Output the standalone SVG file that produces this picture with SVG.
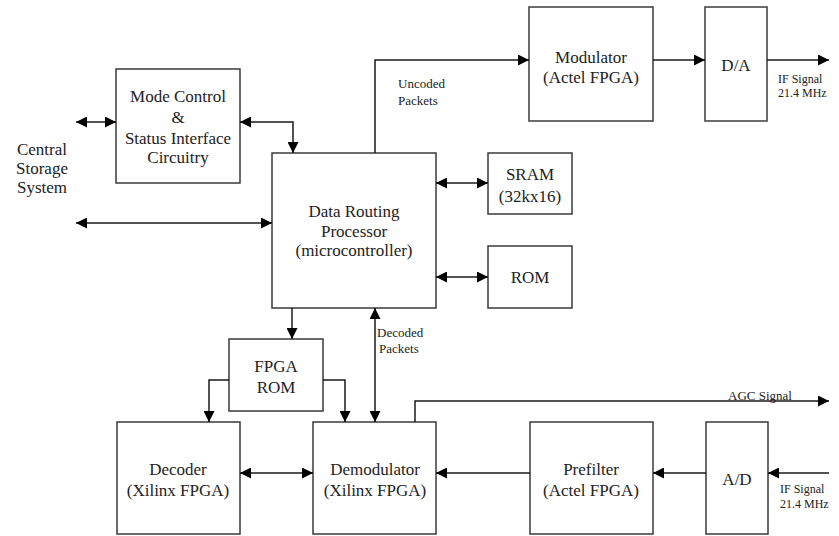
<svg xmlns="http://www.w3.org/2000/svg" width="839" height="536" viewBox="0 0 839 536">
<defs>
<style>
.box{fill:#fff;stroke:#3a3a3a;stroke-width:1.5}
.ln{fill:none;stroke:#1a1a1a;stroke-width:1.5}
.t{font-family:"Liberation Serif","DejaVu Serif","Times New Roman",serif;font-size:17px;fill:#222;text-anchor:middle}
.s{font-family:"Liberation Serif","DejaVu Serif","Times New Roman",serif;font-size:13px;fill:#222}
.if{font-family:"Liberation Serif","DejaVu Serif","Times New Roman",serif;font-size:12px;fill:#222}
</style>
<marker id="ah" markerUnits="userSpaceOnUse" markerWidth="11" markerHeight="11" viewBox="0 0 11 11" refX="11" refY="5.5" orient="auto-start-reverse">
<path d="M0,0 L11,5.5 L0,11 z" fill="#000"/>
</marker>
</defs>
<rect width="839" height="536" fill="#fff"/>

<g id="central">
<text class="t" x="42" y="155">Central</text>
<text class="t" x="42" y="174">Storage</text>
<text class="t" x="42" y="193">System</text>
</g>

<g id="mode">
<rect class="box" x="116" y="69" width="124" height="114"/>
<text class="t" x="178" y="102">Mode Control</text>
<text class="t" x="178" y="123">&amp;</text>
<text class="t" x="178" y="144">Status Interface</text>
<text class="t" x="178" y="163">Circuitry</text>
</g>

<g id="drp">
<rect class="box" x="272" y="153" width="164" height="155"/>
<text class="t" x="354" y="217">Data Routing</text>
<text class="t" x="354" y="237">Processor</text>
<text class="t" x="354" y="256">(microcontroller)</text>
</g>

<g id="sram">
<rect class="box" x="488" y="153" width="84" height="61"/>
<text class="t" x="530" y="180">SRAM</text>
<text class="t" x="530" y="202">(32kx16)</text>
</g>

<g id="rom">
<rect class="box" x="488" y="246" width="84" height="62"/>
<text class="t" x="530" y="283">ROM</text>
</g>

<g id="modulator">
<rect class="box" x="529" y="7" width="124" height="114"/>
<text class="t" x="591" y="63">Modulator</text>
<text class="t" x="591" y="83">(Actel FPGA)</text>
</g>

<g id="da">
<rect class="box" x="705" y="7" width="62" height="114"/>
<text class="t" x="736" y="71">D/A</text>
</g>

<g id="fpgarom">
<rect class="box" x="229" y="339" width="94" height="72"/>
<text class="t" x="276" y="372">FPGA</text>
<text class="t" x="276" y="393">ROM</text>
</g>

<g id="decoder">
<rect class="box" x="117" y="422" width="123" height="112"/>
<text class="t" x="178" y="475">Decoder</text>
<text class="t" x="178" y="496">(Xilinx FPGA)</text>
</g>

<g id="demodulator">
<rect class="box" x="313" y="422" width="123" height="112"/>
<text class="t" x="375" y="475">Demodulator</text>
<text class="t" x="375" y="496">(Xilinx FPGA)</text>
</g>

<g id="prefilter">
<rect class="box" x="530" y="422" width="123" height="112"/>
<text class="t" x="591" y="475">Prefilter</text>
<text class="t" x="591" y="496">(Actel FPGA)</text>
</g>

<g id="ad">
<rect class="box" x="706" y="422" width="62" height="112"/>
<text class="t" x="737" y="485">A/D</text>
</g>

<g id="connectors">
<line class="ln" x1="76" y1="122" x2="116" y2="122" marker-start="url(#ah)" marker-end="url(#ah)"/>
<polyline class="ln" points="240,122 293,122 293,153" marker-start="url(#ah)" marker-end="url(#ah)"/>
<line class="ln" x1="76" y1="223" x2="272" y2="223" marker-start="url(#ah)" marker-end="url(#ah)"/>
<polyline class="ln" points="375,153 375,60 529,60" marker-end="url(#ah)"/>
<line class="ln" x1="653" y1="60" x2="705" y2="60" marker-end="url(#ah)"/>
<line class="ln" x1="767" y1="60" x2="829" y2="60" marker-end="url(#ah)"/>
<line class="ln" x1="436" y1="183" x2="488" y2="183" marker-start="url(#ah)" marker-end="url(#ah)"/>
<line class="ln" x1="436" y1="277" x2="488" y2="277" marker-start="url(#ah)" marker-end="url(#ah)"/>
<line class="ln" x1="292" y1="308" x2="292" y2="339" marker-end="url(#ah)"/>
<line class="ln" x1="375" y1="308" x2="375" y2="422" marker-start="url(#ah)" marker-end="url(#ah)"/>
<polyline class="ln" points="229,380 209,380 209,422" marker-end="url(#ah)"/>
<polyline class="ln" points="323,380 345,380 345,422" marker-end="url(#ah)"/>
<line class="ln" x1="240" y1="473" x2="313" y2="473" marker-start="url(#ah)" marker-end="url(#ah)"/>
<polyline class="ln" points="415,422 415,401 829,401" marker-end="url(#ah)"/>
<line class="ln" x1="530" y1="473" x2="436" y2="473" marker-end="url(#ah)"/>
<line class="ln" x1="706" y1="473" x2="653" y2="473" marker-end="url(#ah)"/>
<line class="ln" x1="829" y1="473" x2="768" y2="473" marker-end="url(#ah)"/>
<text class="s" x="398" y="88">Uncoded</text>
<text class="s" x="398" y="105">Packets</text>
<text class="s" x="377" y="337">Decoded</text>
<text class="s" x="379" y="353">Packets</text>
<text class="s" x="728" y="400">AGC Signal</text>
<text class="if" x="778" y="83">IF Signal</text>
<text class="if" x="778" y="97">21.4 MHz</text>
<text class="if" x="780" y="493">IF Signal</text>
<text class="if" x="780" y="508">21.4 MHz</text>
</g>
</svg>
